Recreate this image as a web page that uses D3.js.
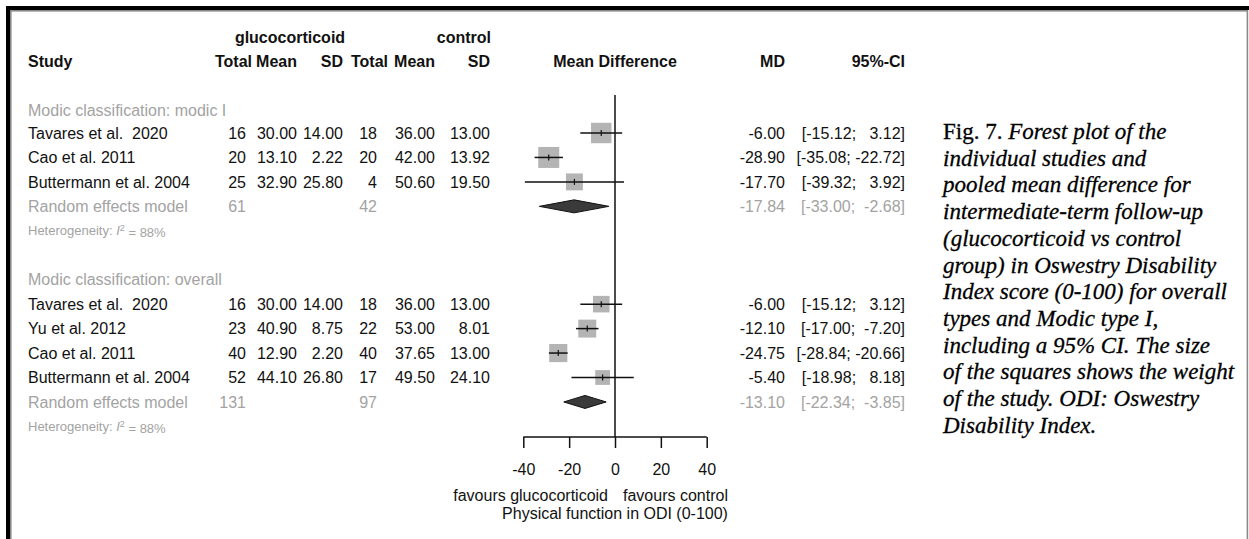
<!DOCTYPE html>
<html>
<head>
<meta charset="utf-8">
<script src="https://cdn.jsdelivr.net/npm/d3@7"></script>
<style>
  html, body { margin: 0; padding: 0; background: #fff; }
  svg { display: block; }
  text { font-family: "Liberation Sans", Arial, sans-serif; white-space: pre; }
</style>
</head>
<body>
<svg id="chart" width="1249" height="539"></svg>
<script>
// ---- study-level data ----
const studyLabels = ["Tavares et al.  2020", "Cao et al. 2011", "Buttermann et al. 2004",
                     "Tavares et al.  2020", "Yu et al. 2012", "Cao et al. 2011", "Buttermann et al. 2004"];
const studyGroup  = [0, 0, 0, 1, 1, 1, 1];
const gcTotal = [16, 20, 25, 16, 23, 40, 52];
const gcMean  = [30.00, 13.10, 32.90, 30.00, 40.90, 12.90, 44.10];
const gcSD    = [14.00, 2.22, 25.80, 14.00, 8.75, 2.20, 26.80];
const ctTotal = [18, 20, 4, 18, 22, 40, 17];
const ctMean  = [36.00, 42.00, 50.60, 36.00, 53.00, 37.65, 49.50];
const ctSD    = [13.00, 13.92, 19.50, 13.00, 8.01, 13.00, 24.10];
const md      = [-6.00, -28.90, -17.70, -6.00, -12.10, -24.75, -5.40];
const ciLow   = [-15.12, -35.08, -39.32, -15.12, -17.00, -28.84, -18.98];
const ciHigh  = [3.12, -22.72, 3.92, 3.12, -7.20, -20.66, 8.18];
const weight  = [36.5, 38.6, 25.0, 24.0, 28.2, 28.8, 19.1];

// ---- subgroup (random effects) data ----
const groupLabels = ["Modic classification: modic I", "Modic classification: overall"];
const pooledGcTotal = [61, 131];
const pooledCtTotal = [42, 97];
const pooledMD   = [-17.84, -13.10];
const pooledLow  = [-33.00, -22.34];
const pooledHigh = [-2.68, -3.85];
const groupI2    = [88, 88];

const xTicks = [-40, -20, 0, 20, 40];

const captionLines = [
  ["Fig. 7. ", "Forest plot of the"],
  ["", "individual studies and"],
  ["", "pooled mean difference for"],
  ["", "intermediate-term follow-up"],
  ["", "(glucocorticoid vs control"],
  ["", "group) in Oswestry Disability"],
  ["", "Index score (0-100) for overall"],
  ["", "types and Modic type I,"],
  ["", "including a 95% CI. The size"],
  ["", "of the squares shows the weight"],
  ["", "of the study. ODI: Oswestry"],
  ["", "Disability Index."]
];

// ---- layout ----
const svg = d3.select("#chart");
const W = 1249, H = 539;
const FS = 16;
const grey = "#a3a3a3";
const locale = d3.formatLocale({ decimal: ".", thousands: ",", grouping: [3], currency: ["", ""], minus: "-" });
const f2 = locale.format(".2f");
const fd = locale.format("d");
const pad = (s, n) => " ".repeat(Math.max(0, n - s.length)) + s;

svg.append("rect").attr("width", W).attr("height", H).attr("fill", "#fff");

// page frame
svg.append("rect").attr("x", 6).attr("y", 6).attr("width", W - 6).attr("height", 4).attr("fill", "#000");
svg.append("rect").attr("x", 6).attr("y", 6).attr("width", 4).attr("height", H - 6).attr("fill", "#000");
svg.append("rect").attr("x", 10).attr("y", 10).attr("width", W - 12).attr("height", 1.6).attr("fill", "#8a8a8a");
svg.append("rect").attr("x", 10).attr("y", 10).attr("width", 1.6).attr("height", H - 10).attr("fill", "#8a8a8a");
svg.append("rect").attr("x", W - 2.4).attr("y", 10).attr("width", 1.6).attr("height", H - 10).attr("fill", "#8a8a8a");

// row positions: 0 = first subgroup label ... 13 = last heterogeneity line
const yRow = d3.scaleLinear().domain([1, 13]).range([133, 426.4]);
const x = d3.scaleLinear().domain([-40, 40]).range([523.3, 706.7]);
const side = d3.scaleSqrt().domain([0, d3.max(weight)]).range([0, 21]);

const col = { study: 28, gcTotal: 246, gcMean: 297, gcSD: 343, ctTotal: 377, ctMean: 435, ctSD: 490, md: 785, ci: 905 };

function txt(xp, yp, s, opts = {}) {
  return svg.append("text")
    .attr("x", xp).attr("y", yp).attr("dy", "0.35em")
    .attr("text-anchor", opts.anchor || "start")
    .attr("font-size", opts.size || FS)
    .attr("font-weight", opts.bold ? "bold" : "normal")
    .attr("fill", opts.color || "#111")
    .text(s);
}

// column headers
txt(290, 37, "glucocorticoid", { anchor: "middle", bold: true });
txt(491, 37, "control", { anchor: "end", bold: true });
txt(col.study, 61, "Study", { bold: true });
txt(252, 61, "Total", { anchor: "end", bold: true });
txt(col.gcMean, 61, "Mean", { anchor: "end", bold: true });
txt(col.gcSD, 61, "SD", { anchor: "end", bold: true });
txt(388, 61, "Total", { anchor: "end", bold: true });
txt(col.ctMean, 61, "Mean", { anchor: "end", bold: true });
txt(col.ctSD, 61, "SD", { anchor: "end", bold: true });
txt(x(0), 61, "Mean Difference", { anchor: "middle", bold: true });
txt(col.md, 61, "MD", { anchor: "end", bold: true });
txt(col.ci, 61, "95%-CI", { anchor: "end", bold: true });

// CI strings padded as in the original table
const ciText = (lo, hi) => "[" + pad(f2(lo), 6) + "; " + pad(f2(hi), 6) + "]";

// reference line at zero
const axisY = 437;
svg.append("line").attr("x1", x(0)).attr("x2", x(0)).attr("y1", 95).attr("y2", axisY)
  .attr("stroke", "#111").attr("stroke-width", 1.5);

// rows
const firstRowOfGroup = [1, 8];
groupLabels.forEach((g, gi) => {
  const r0 = firstRowOfGroup[gi];
  txt(col.study, yRow(r0 - 1) + (gi === 0 ? 2 : 0), g, { color: grey });
  const idx = studyLabels.map((_, i) => i).filter(i => studyGroup[i] === gi);
  idx.forEach((i, k) => {
    const y = yRow(r0 + k);
    txt(col.study, y, studyLabels[i]);
    txt(col.gcTotal, y, fd(gcTotal[i]), { anchor: "end" });
    txt(col.gcMean, y, f2(gcMean[i]), { anchor: "end" });
    txt(col.gcSD, y, f2(gcSD[i]), { anchor: "end" });
    txt(col.ctTotal, y, fd(ctTotal[i]), { anchor: "end" });
    txt(col.ctMean, y, f2(ctMean[i]), { anchor: "end" });
    txt(col.ctSD, y, f2(ctSD[i]), { anchor: "end" });
    txt(col.md, y, f2(md[i]), { anchor: "end" });
    txt(col.ci, y, ciText(ciLow[i], ciHigh[i]), { anchor: "end" });

    const s = side(weight[i]);
    svg.append("rect").attr("x", x(md[i]) - s / 2).attr("y", y - s / 2)
      .attr("width", s).attr("height", s).attr("fill", "#b4b4b4");
    svg.append("line").attr("x1", x(ciLow[i])).attr("x2", x(ciHigh[i])).attr("y1", y).attr("y2", y)
      .attr("stroke", "#111").attr("stroke-width", 1.5);
    svg.append("line").attr("x1", x(md[i])).attr("x2", x(md[i])).attr("y1", y - 3).attr("y2", y + 3)
      .attr("stroke", "#111").attr("stroke-width", 1.2);
  });

  const ry = yRow(r0 + idx.length);
  txt(col.study, ry, "Random effects model", { color: grey });
  txt(col.gcTotal, ry, fd(pooledGcTotal[gi]), { anchor: "end", color: grey });
  txt(col.ctTotal, ry, fd(pooledCtTotal[gi]), { anchor: "end", color: grey });
  txt(col.md, ry, f2(pooledMD[gi]), { anchor: "end", color: grey });
  txt(col.ci, ry, ciText(pooledLow[gi], pooledHigh[gi]), { anchor: "end", color: grey });

  const dh = 6.5;
  svg.append("path")
    .attr("d", `M${x(pooledLow[gi])},${ry} L${x(pooledMD[gi])},${ry - dh} L${x(pooledHigh[gi])},${ry} L${x(pooledMD[gi])},${ry + dh} Z`)
    .attr("fill", "#3a3a3a").attr("stroke", "#111").attr("stroke-width", 1);

  const het = svg.append("text").attr("x", col.study).attr("y", yRow(r0 + idx.length + 1)).attr("dy", "0.35em")
    .attr("font-size", 13).attr("fill", grey);
  het.append("tspan").text("Heterogeneity: ");
  het.append("tspan").attr("font-style", "italic").text("I");
  het.append("tspan").attr("dy", "-0.45em").attr("font-size", 9).text("2");
  het.append("tspan").attr("dy", "0.45em").text(" = " + groupI2[gi] + "%");
});

// x axis
const axis = svg.append("g").attr("transform", `translate(0,${axisY})`)
  .call(d3.axisBottom(x).tickValues(xTicks).tickSize(11).tickPadding(16).tickFormat(fd));
axis.select(".domain").attr("stroke", "#111").attr("stroke-width", 1.5).attr("d", `M${x(-40)},0H${x(40)}`);
axis.selectAll(".tick line").attr("stroke", "#111").attr("stroke-width", 1.5);
axis.selectAll(".tick text").attr("font-size", FS).attr("fill", "#111")
  .attr("font-family", "Liberation Sans, Arial, sans-serif");

txt(x(0) - 7, 495, "favours glucocorticoid", { anchor: "end" });
txt(x(0) + 8, 495, "favours control", { anchor: "start" });
txt(x(0), 513, "Physical function in ODI (0-100)", { anchor: "middle" });

// caption
const cap = svg.append("g").attr("font-size", 23).attr("fill", "#000")
  .attr("stroke", "#000").attr("stroke-width", 0.3);
captionLines.forEach((ln, i) => {
  const t = cap.append("text").attr("x", 943).attr("y", 131.7 + i * 26.7).attr("dy", "0.32em")
    .style("font-family", "Liberation Serif, serif");
  if (ln[0]) t.append("tspan").text(ln[0]);
  t.append("tspan").attr("font-style", "italic").text(ln[1]);
});
</script>
</body>
</html>
